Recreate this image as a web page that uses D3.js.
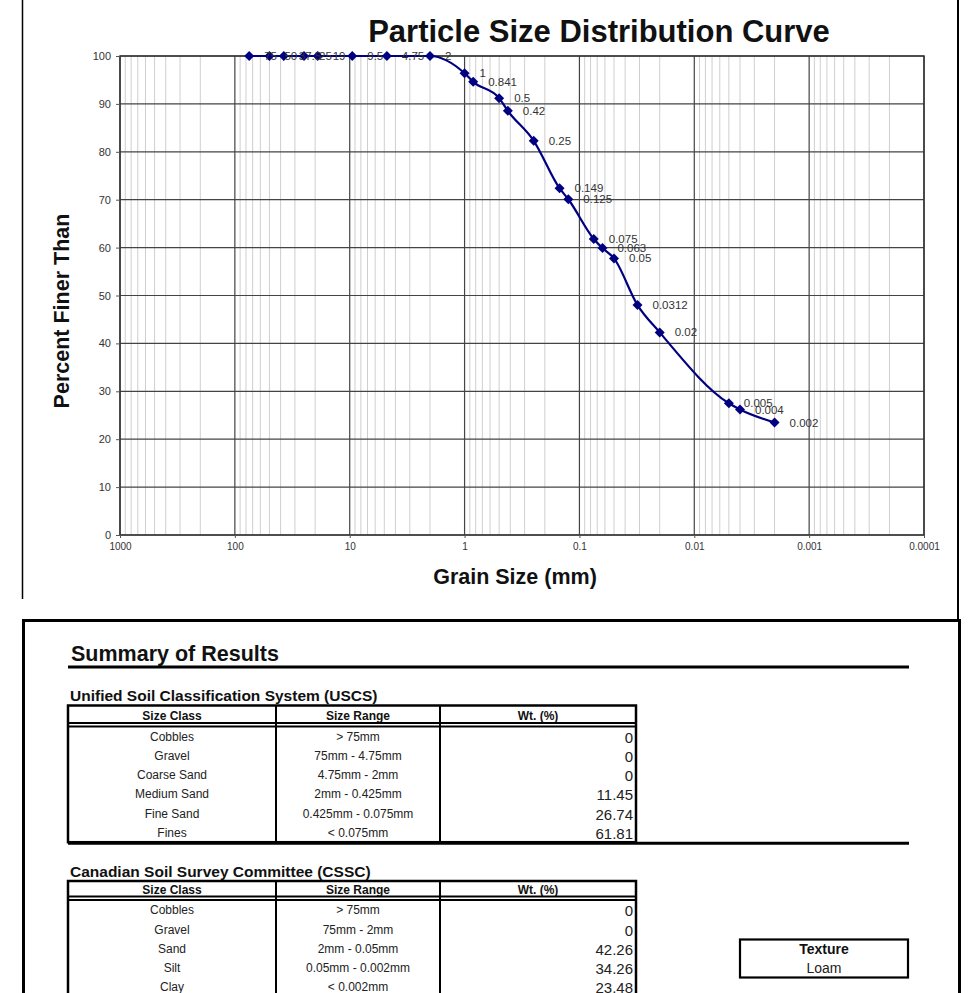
<!DOCTYPE html>
<html>
<head>
<meta charset="utf-8">
<script src="https://cdn.jsdelivr.net/npm/d3@7"></script>
<style>
  html, body { margin: 0; padding: 0; background: #fff; }
  svg { display: block; font-family: "Liberation Sans", Arial, sans-serif; }
</style>
</head>
<body>
<svg id="chart" width="974" height="993"></svg>
<script>
// ---------- DATA ----------
const sizes  = [75, 50, 37.5, 25, 19, 9.5, 4.75, 2, 1, 0.841, 0.5, 0.42, 0.25, 0.149, 0.125, 0.075, 0.063, 0.05, 0.0312, 0.02, 0.005, 0.004, 0.002];
const finer  = [100, 100, 100, 100, 100, 100, 100, 100, 96.4, 94.6, 91.2, 88.55, 82.3, 72.4, 70.1, 61.81, 59.9, 57.74, 48.0, 42.3, 27.5, 26.2, 23.48];
const xTickValues = [1000, 100, 10, 1, 0.1, 0.01, 0.001, 0.0001];
const xTickLabels = ["1000", "100", "10", "1", "0.1", "0.01", "0.001", "0.0001"];
const yTickValues = [0, 10, 20, 30, 40, 50, 60, 70, 80, 90, 100];

const uscsClass = ["Cobbles", "Gravel", "Coarse Sand", "Medium Sand", "Fine Sand", "Fines"];
const uscsRange = ["> 75mm", "75mm - 4.75mm", "4.75mm - 2mm", "2mm - 0.425mm", "0.425mm - 0.075mm", "< 0.075mm"];
const uscsWt    = ["0", "0", "0", "11.45", "26.74", "61.81"];
const csscClass = ["Cobbles", "Gravel", "Sand", "Silt", "Clay"];
const csscRange = ["> 75mm", "75mm - 2mm", "2mm - 0.05mm", "0.05mm - 0.002mm", "< 0.002mm"];
const csscWt    = ["0", "0", "42.26", "34.26", "23.48"];
const headers   = ["Size Class", "Size Range", "Wt. (%)"];
const texture   = "Loam";

// ---------- CHART ----------
const svg = d3.select("#chart");
const L = 120, R = 924, T = 56, B = 535;
const x = d3.scaleLog().domain([1000, 0.0001]).range([L, R]);
const y = d3.scaleLinear().domain([0, 100]).range([B, T]);

// frame lines of the chart section
svg.append("line").attr("x1", 22.5).attr("x2", 22.5).attr("y1", 0).attr("y2", 599)
  .attr("stroke", "#000").attr("stroke-width", 1.5);
svg.append("line").attr("x1", 958).attr("x2", 958).attr("y1", 0).attr("y2", 621)
  .attr("stroke", "#000").attr("stroke-width", 2);

// minor vertical grid
const minor = [];
for (let e = -4; e < 3; e++) for (let m = 2; m <= 9; m++) minor.push(m * Math.pow(10, e));
const g = svg.append("g");
g.selectAll("line.minor").data(minor).enter().append("line")
  .attr("x1", d => x(d)).attr("x2", d => x(d)).attr("y1", T).attr("y2", B)
  .attr("stroke", "#cfcfcf").attr("stroke-width", 1);
// major vertical grid
g.selectAll("line.major").data(xTickValues).enter().append("line")
  .attr("x1", d => x(d)).attr("x2", d => x(d)).attr("y1", T).attr("y2", B)
  .attr("stroke", "#444").attr("stroke-width", 1.2);
// horizontal grid
g.selectAll("line.h").data(yTickValues).enter().append("line")
  .attr("x1", L).attr("x2", R).attr("y1", d => y(d)).attr("y2", d => y(d))
  .attr("stroke", "#444").attr("stroke-width", 1.2);
// plot border
svg.append("rect").attr("x", L).attr("y", T).attr("width", R - L).attr("height", B - T)
  .attr("fill", "none").attr("stroke", "#333").attr("stroke-width", 1.5);

// axes
const yAxis = d3.axisLeft(y).tickValues(yTickValues).tickSize(4).tickPadding(5);
const ya = svg.append("g").attr("transform", `translate(${L},0)`).call(yAxis);
ya.select(".domain").remove();
ya.selectAll("line").attr("stroke", "#555");
ya.selectAll("text").attr("font-size", 11).attr("fill", "#333").attr("font-family", "Liberation Sans, Arial, sans-serif");

const xAxis = d3.axisBottom(x).tickValues(xTickValues).tickFormat((d, i) => xTickLabels[i]).tickSize(3).tickPadding(5);
const xa = svg.append("g").attr("transform", `translate(0,${B})`).call(xAxis);
xa.select(".domain").remove();
xa.selectAll("line").attr("stroke", "#555");
xa.selectAll("text").attr("font-size", 10).attr("fill", "#333").attr("font-family", "Liberation Sans, Arial, sans-serif");

// titles
svg.append("text").attr("x", 599).attr("y", 42).attr("text-anchor", "middle")
  .attr("font-size", 31).attr("font-weight", "bold").attr("fill", "#111")
  .text("Particle Size Distribution Curve");
svg.append("text").attr("x", 515).attr("y", 584).attr("text-anchor", "middle")
  .attr("font-size", 21.5).attr("font-weight", "bold").attr("fill", "#111")
  .text("Grain Size (mm)");
svg.append("text").attr("transform", "translate(69,311) rotate(-90)").attr("text-anchor", "middle")
  .attr("font-size", 21.5).attr("font-weight", "bold").attr("fill", "#111")
  .text("Percent Finer Than");

// series
const pts = sizes.map((s, i) => ({ s, p: finer[i], label: String(s) }));
const line = d3.line().x(d => x(d.s)).y(d => y(d.p)).curve(d3.curveMonotoneX);
svg.append("path").datum(pts).attr("d", line).attr("fill", "none")
  .attr("stroke", "#000080").attr("stroke-width", 2.2);
svg.selectAll("path.mk").data(pts).enter().append("path")
  .attr("d", d3.symbol(d3.symbolSquare, 50))
  .attr("transform", d => `translate(${x(d.s)},${y(d.p)}) rotate(45)`)
  .attr("fill", "#000080");
svg.selectAll("text.lbl").data(pts).enter().append("text")
  .attr("x", d => x(d.s) + 15).attr("y", d => y(d.p)).attr("dy", "0.35em")
  .attr("font-size", 11.5).attr("fill", "#333")
  .text(d => d.label);

// ---------- SUMMARY ----------
svg.append("path").attr("d", "M23.5,993 V620.5 H959.5 V993").attr("fill", "none")
  .attr("stroke", "#000").attr("stroke-width", 3);
svg.append("text").attr("x", 71).attr("y", 661).attr("font-size", 21.5).attr("font-weight", "bold")
  .attr("fill", "#111").text("Summary of Results");
svg.append("line").attr("x1", 68).attr("x2", 909).attr("y1", 667).attr("y2", 667)
  .attr("stroke", "#000").attr("stroke-width", 3);

const cols = [68, 276, 440, 636];
function drawTable(title, titleY, top, rowStart, classes, ranges, wts) {
  const rowH = 19.2;
  const bottom = rowStart + rowH * classes.length;
  svg.append("text").attr("x", 70).attr("y", titleY).attr("font-size", 15.5).attr("font-weight", "bold")
    .attr("fill", "#111").text(title);
  const t = svg.append("g");
  // header texts
  t.selectAll("text.h").data(headers).enter().append("text")
    .attr("x", (d, i) => (cols[i] + cols[i + 1]) / 2).attr("y", (top + rowStart - 4) / 2 + 1.5).attr("dy", "0.35em")
    .attr("text-anchor", "middle").attr("font-size", 12).attr("font-weight", "bold").attr("fill", "#111")
    .text(d => d);
  // outer border
  t.append("rect").attr("x", cols[0]).attr("y", top).attr("width", cols[3] - cols[0]).attr("height", bottom - top)
    .attr("fill", "none").attr("stroke", "#000").attr("stroke-width", 2.5);
  // column dividers
  t.selectAll("line.c").data([cols[1], cols[2]]).enter().append("line")
    .attr("x1", d => d).attr("x2", d => d).attr("y1", top).attr("y2", bottom)
    .attr("stroke", "#000").attr("stroke-width", 2);
  // double header line
  t.selectAll("line.d").data([rowStart - 4, rowStart - 0.5]).enter().append("line")
    .attr("x1", cols[0]).attr("x2", cols[3]).attr("y1", d => d).attr("y2", d => d)
    .attr("stroke", "#000").attr("stroke-width", 1.8);
  // rows
  classes.forEach((c, i) => {
    const cy = rowStart + rowH * (i + 0.5);
    t.append("text").attr("x", (cols[0] + cols[1]) / 2).attr("y", cy).attr("dy", "0.35em")
      .attr("text-anchor", "middle").attr("font-size", 12).attr("fill", "#222").text(c);
    t.append("text").attr("x", (cols[1] + cols[2]) / 2).attr("y", cy).attr("dy", "0.35em")
      .attr("text-anchor", "middle").attr("font-size", 12).attr("fill", "#222").text(ranges[i]);
    t.append("text").attr("x", cols[3] - 3).attr("y", cy + 1).attr("dy", "0.35em")
      .attr("text-anchor", "end").attr("font-size", 15).attr("fill", "#222").text(wts[i]);
  });
  return bottom;
}
const b1 = drawTable("Unified Soil Classification System (USCS)", 701, 705.5, 727, uscsClass, uscsRange, uscsWt);
svg.append("line").attr("x1", 68).attr("x2", 909).attr("y1", b1 + 1).attr("y2", b1 + 1)
  .attr("stroke", "#000").attr("stroke-width", 3);
drawTable("Canadian Soil Survey Committee (CSSC)", 877, 881, 900.5, csscClass, csscRange, csscWt);

// texture box
svg.append("rect").attr("x", 740).attr("y", 939.5).attr("width", 168).attr("height", 38)
  .attr("fill", "none").attr("stroke", "#000").attr("stroke-width", 2.2);
svg.append("text").attr("x", 824).attr("y", 949).attr("dy", "0.35em").attr("text-anchor", "middle")
  .attr("font-size", 14).attr("font-weight", "bold").attr("fill", "#111").text("Texture");
svg.append("text").attr("x", 824).attr("y", 968).attr("dy", "0.35em").attr("text-anchor", "middle")
  .attr("font-size", 14).attr("fill", "#222").text(texture);
</script>
</body>
</html>
